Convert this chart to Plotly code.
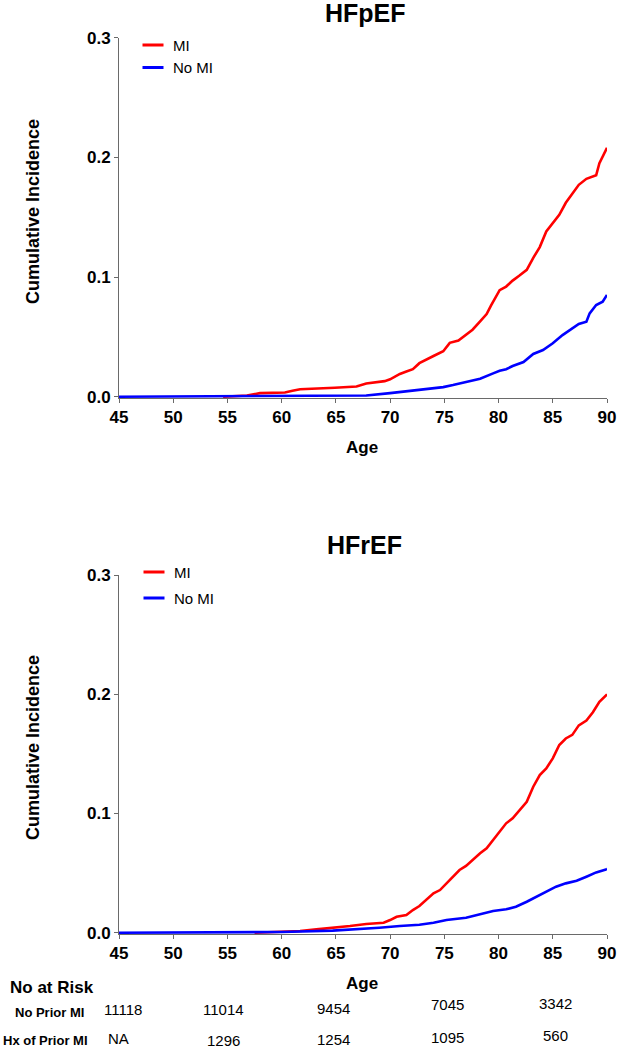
import plotly.graph_objects as go

# ---------------- data ----------------
x_ticks = [45, 50, 55, 60, 65, 70, 75, 80, 85, 90]
y_ticks = [0.0, 0.1, 0.2, 0.3]

# HFpEF, MI
pef_mi_age = [54.6, 56.8, 58.0, 60.3, 61.0, 61.7, 64.9, 66.9, 67.8, 69.5, 70.0, 70.3, 70.9, 71.5,
              72.1, 72.7, 73.3, 74.0, 74.9, 75.5, 76.3, 77.0, 77.6, 78.3, 78.9, 79.3, 79.8, 80.1,
              80.7, 81.3, 81.9, 82.6, 83.2, 83.8, 84.4, 85.0, 85.6, 86.2, 86.8, 87.4, 88.1, 89.0,
              89.3, 89.6, 89.9, 90.0]
pef_mi_inc = [0.0, 0.001, 0.003, 0.0035, 0.005, 0.0062, 0.0075, 0.0085, 0.011, 0.013, 0.0145, 0.016,
              0.019, 0.021, 0.023, 0.028, 0.031, 0.034, 0.038, 0.045, 0.047, 0.052, 0.056, 0.063,
              0.069, 0.076, 0.084, 0.089, 0.092, 0.097, 0.101, 0.106, 0.116, 0.125, 0.138, 0.145,
              0.152, 0.162, 0.170, 0.177, 0.182, 0.185, 0.195, 0.201, 0.206, 0.208]

# HFpEF, No MI
pef_nomi_age = [45, 62.0, 65.0, 67.8, 70.0, 71.8, 74.0, 74.9, 75.8, 77.0, 78.3, 79.5, 80.1, 80.7,
                81.3, 82.3, 83.2, 84.1, 85.0, 85.9, 86.8, 87.4, 88.1, 88.4, 89.0, 89.6, 90.0]
pef_nomi_inc = [0.0, 0.0003, 0.0006, 0.001, 0.003, 0.005, 0.007, 0.008, 0.0097, 0.012, 0.015, 0.0195,
                0.0217, 0.023, 0.0256, 0.029, 0.0357, 0.039, 0.0446, 0.0515, 0.057, 0.0607, 0.0627,
                0.0696, 0.0766, 0.0794, 0.085]

# HFrEF, MI
ref_mi_age = [57.5, 60.0, 61.7, 63.2, 64.7, 66.3, 67.8, 69.4, 70.0, 70.6, 71.5, 72.1, 72.7, 73.3,
              74.0, 74.6, 75.2, 75.8, 76.4, 77.0, 77.6, 78.3, 78.9, 79.5, 80.1, 80.7, 81.3, 81.9,
              82.6, 83.2, 83.8, 84.4, 85.0, 85.6, 86.2, 86.8, 87.4, 88.1, 88.7, 89.3, 89.9, 90.0]
ref_mi_inc = [0.0, 0.0006, 0.0014, 0.0028, 0.004, 0.0056, 0.0073, 0.0084, 0.0106, 0.0134, 0.0148,
              0.019, 0.0224, 0.0274, 0.033, 0.0358, 0.0414, 0.047, 0.0526, 0.056, 0.061, 0.0666,
              0.0708, 0.0778, 0.0848, 0.0918, 0.096, 0.1028, 0.1099, 0.1225, 0.1323, 0.1379,
              0.1463, 0.1575, 0.163, 0.166, 0.174, 0.178, 0.185, 0.1938, 0.1994, 0.200]

# HFrEF, No MI
ref_nomi_age = [45, 55, 60, 64.7, 67.2, 69.0, 70.9, 72.7, 74.0, 75.2, 77.0, 78.3, 79.5, 80.7, 81.6,
                82.6, 83.5, 84.4, 85.3, 86.2, 87.2, 88.1, 89.0, 89.9, 90.0]
ref_nomi_inc = [0.0, 0.0002, 0.0006, 0.0017, 0.0028, 0.0042, 0.0056, 0.0067, 0.0084, 0.0106, 0.0126,
                0.0154, 0.0182, 0.0196, 0.0218, 0.026, 0.0302, 0.0344, 0.0386, 0.0414, 0.0436,
                0.047, 0.0506, 0.0531, 0.0535]

panel_titles = ["HFpEF", "HFrEF"]
series_names = ["MI", "No MI"]

risk_header = "No at Risk"
risk_rows = ["No Prior MI", "Hx of Prior MI"]
risk_no_prior = ["11118", "11014", "9454", "7045", "3342"]
risk_hx_prior = ["NA", "1296", "1254", "1095", "560"]

# ---------------- layout helpers ----------------
W, H = 617, 1050
FONT = "Liberation Sans, Arial, sans-serif"
RED, BLUE = "#ff0000", "#0000ff"
AXC = "#6a6a6a"


def px_x(p):
    return p / W


def px_y(p):
    return 1 - p / H


YMIN = -0.001
# pixel positions of value 0 and 0.3 in each panel
top_zero, top_max = 396.7, 37.6
bot_zero, bot_max = 932.7, 575.2


def ydomain(zero_px, max_px):
    per = (zero_px - max_px) / 0.3
    lo = zero_px - YMIN * per
    return [px_y(lo), px_y(max_px)]


fig = go.Figure()

line_w = 2.6
fig.add_trace(go.Scatter(x=pef_mi_age, y=pef_mi_inc, mode="lines", line=dict(color=RED, width=line_w),
                         xaxis="x", yaxis="y", showlegend=False, hoverinfo="skip"))
fig.add_trace(go.Scatter(x=pef_nomi_age, y=pef_nomi_inc, mode="lines", line=dict(color=BLUE, width=line_w),
                         xaxis="x", yaxis="y", showlegend=False, hoverinfo="skip"))
fig.add_trace(go.Scatter(x=ref_mi_age, y=ref_mi_inc, mode="lines", line=dict(color=RED, width=line_w),
                         xaxis="x2", yaxis="y2", showlegend=False, hoverinfo="skip"))
fig.add_trace(go.Scatter(x=ref_nomi_age, y=ref_nomi_inc, mode="lines", line=dict(color=BLUE, width=line_w),
                         xaxis="x2", yaxis="y2", showlegend=False, hoverinfo="skip"))

# legend entries (short line symbols)
for leg, xa, ya in [("legend", "x", "y"), ("legend2", "x2", "y2")]:
    for name, col in zip(series_names, [RED, BLUE]):
        fig.add_trace(go.Scatter(
            x=[None], y=[None], mode="markers", name=name, legend=leg, legendgroup=leg + name,
            xaxis=xa, yaxis=ya,
            marker=dict(symbol="line-ew", size=15, color=col, line=dict(color=col, width=3)),
        ))

axis_common = dict(
    range=[45, 90], tickvals=x_ticks, ticks="outside", ticklen=4, tickwidth=1, tickcolor=AXC,
    showline=True, linecolor=AXC, linewidth=1, showgrid=False, zeroline=False, automargin=False,
    tickfont=dict(family=FONT, size=17, color="black", weight="bold"),
    layer="below traces", domain=[px_x(119), px_x(607)],
)
yaxis_common = dict(
    range=[YMIN, 0.3], tickvals=y_ticks, tickformat=".1f", ticks="outside", ticklen=4, tickwidth=1,
    tickcolor=AXC, showline=True, linecolor=AXC, linewidth=1, showgrid=False, zeroline=False,
    automargin=False,
    tickfont=dict(family=FONT, size=17, color="black", weight="bold"), layer="below traces",
)

fig.update_layout(
    template="none",
    width=W, height=H, margin=dict(l=0, r=0, t=0, b=0, pad=0), autosize=False,
    paper_bgcolor="white", plot_bgcolor="white",
    font=dict(family=FONT, color="black"),
    xaxis=dict(axis_common, anchor="y"),
    yaxis=dict(yaxis_common, anchor="x", domain=ydomain(top_zero, top_max)),
    xaxis2=dict(axis_common, anchor="y2"),
    yaxis2=dict(yaxis_common, anchor="x2", domain=ydomain(bot_zero, bot_max)),
    legend=dict(x=px_x(133), y=px_y(45 - 16.25), xanchor="left", yanchor="top",
                bgcolor="rgba(0,0,0,0)", borderwidth=0, font=dict(family=FONT, size=15, color="black"),
                tracegroupgap=0, itemclick=False, itemdoubleclick=False),
    legend2=dict(x=px_x(134), y=px_y(572 - 16.25), xanchor="left", yanchor="top",
                 bgcolor="rgba(0,0,0,0)", borderwidth=0, font=dict(family=FONT, size=15, color="black"),
                 tracegroupgap=3.5, itemclick=False, itemdoubleclick=False),
)

ann = []


def add_text(text, x, y, size, bold=True, xanchor="center", angle=0):
    ann.append(dict(text=text, x=px_x(x), y=px_y(y), xref="paper", yref="paper", showarrow=False,
                    xanchor=xanchor, yanchor="middle", textangle=angle,
                    font=dict(family=FONT, size=size, color="black", weight="bold" if bold else "normal")))


# panel titles
add_text(panel_titles[0], 365, 13, 25)
add_text(panel_titles[1], 364, 545, 25)
# axis titles
add_text("Age", 362, 447, 17)
add_text("Age", 362, 983, 17)
add_text("Cumulative Incidence", 33, 212, 18, angle=-90)
add_text("Cumulative Incidence", 33, 748, 18, angle=-90)

# risk table
add_text(risk_header, 52, 987, 17)
add_text(risk_rows[0], 86, 1012, 13, xanchor="right")
add_text(risk_rows[1], 90, 1040, 13, xanchor="right")
col_x = [123, 223, 333, 447, 555]
row1_y = [1009, 1009, 1008, 1004, 1003]
row2_y = [1038, 1040, 1039, 1037, 1035]
for i, v in enumerate(risk_no_prior):
    add_text(v, col_x[i], row1_y[i], 15, bold=False)
for i, v in enumerate(risk_hx_prior):
    add_text(v, col_x[i] - (5 if i == 0 else 0), row2_y[i], 15, bold=False)

fig.update_layout(annotations=ann)

fig.write_html(
    "out.html",
    config={"displayModeBar": False},
    post_script="document.body.style.margin='0';document.body.style.overflow='hidden';",
)
